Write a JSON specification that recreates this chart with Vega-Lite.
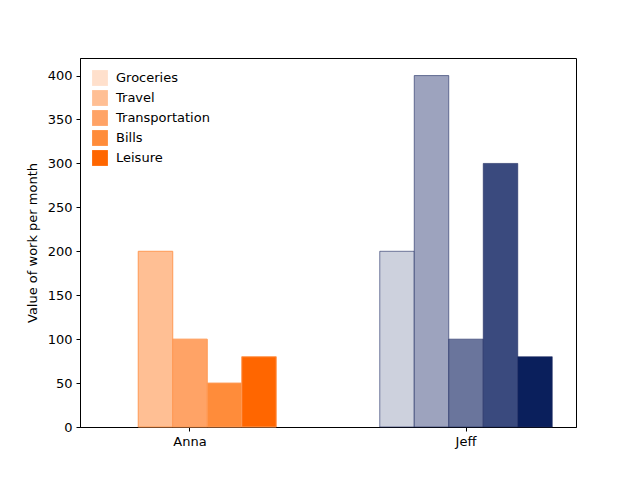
{
  "$schema": "https://vega.github.io/schema/vega-lite/v6.json",
  "width": 496,
  "height": 369,
  "autosize": "none",
  "padding": {"left": 80, "top": 58, "right": 64, "bottom": 53},
  "config": {
    "font": "DejaVu Sans",
    "view": {"stroke": "black", "strokeWidth": 1},
    "axis": {"grid": false, "labelFontSize": 13, "titleFontSize": 13, "labelColor": "black", "titleColor": "black", "tickColor": "black", "domainColor": "black", "titleFontWeight": "normal", "tickSize": 4, "labelPadding": 4}
  },
  "data": {
    "values": [
      {"person": "Anna", "category": "Groceries", "value": 0},
      {"person": "Anna", "category": "Travel", "value": 200},
      {"person": "Anna", "category": "Transportation", "value": 100},
      {"person": "Anna", "category": "Bills", "value": 50},
      {"person": "Anna", "category": "Leisure", "value": 80},
      {"person": "Jeff", "category": "Groceries", "value": 200},
      {"person": "Jeff", "category": "Travel", "value": 400},
      {"person": "Jeff", "category": "Transportation", "value": 100},
      {"person": "Jeff", "category": "Bills", "value": 300},
      {"person": "Jeff", "category": "Leisure", "value": 80}
    ]
  },
  "encoding": {
    "x": {"field": "person", "type": "nominal", "title": null,
      "scale": {"domain": ["Anna", "Jeff"], "paddingInner": 0.375, "paddingOuter": 0.086},
      "axis": {"labelAngle": 0}},
    "xOffset": {"field": "category", "type": "nominal", "sort": ["Groceries", "Travel", "Transportation", "Bills", "Leisure"], "scale": {"paddingInner": 0}},
    "y": {"field": "value", "type": "quantitative", "title": "Value of work per month",
      "scale": {"domain": [0, 420], "nice": false}, "axis": {"values": [0, 50, 100, 150, 200, 250, 300, 350, 400], "titlePadding": 8}}
  },
  "layer": [
    {
      "transform": [{"filter": "datum.person === 'Anna'"}],
      "mark": {"type": "bar", "stroke": "#ff9a55", "strokeWidth": 1},
      "encoding": {
        "strokeOpacity": {"condition": {"test": "datum.value === 0", "value": 0}, "value": 1},
        "color": {"field": "category", "type": "nominal", "sort": ["Groceries", "Travel", "Transportation", "Bills", "Leisure"],
          "scale": {"domain": ["Groceries", "Travel", "Transportation", "Bills", "Leisure"], "range": ["#ffe0cc", "#ffbf94", "#ffa366", "#ff8c3a", "#ff6600"]},
          "legend": {"title": null, "orient": "top-left", "symbolType": "square", "symbolSize": 250, "labelFontSize": 13, "rowPadding": 4, "offset": 12, "symbolStrokeWidth": 0, "labelOffset": 8}}
      }
    },
    {
      "transform": [{"filter": "datum.person === 'Jeff'"}],
      "mark": {"type": "bar", "stroke": "#1e2c62", "strokeWidth": 1, "strokeOpacity": 0.6},
      "encoding": {
        "color": {"field": "category", "type": "nominal",
          "scale": {"domain": ["Groceries", "Travel", "Transportation", "Bills", "Leisure"], "range": ["#cdd1dd", "#9da3be", "#6a759c", "#3a4a7e", "#0a1f5c"]},
          "legend": null}
      }
    }
  ],
  "resolve": {"scale": {"color": "independent"}}
}
